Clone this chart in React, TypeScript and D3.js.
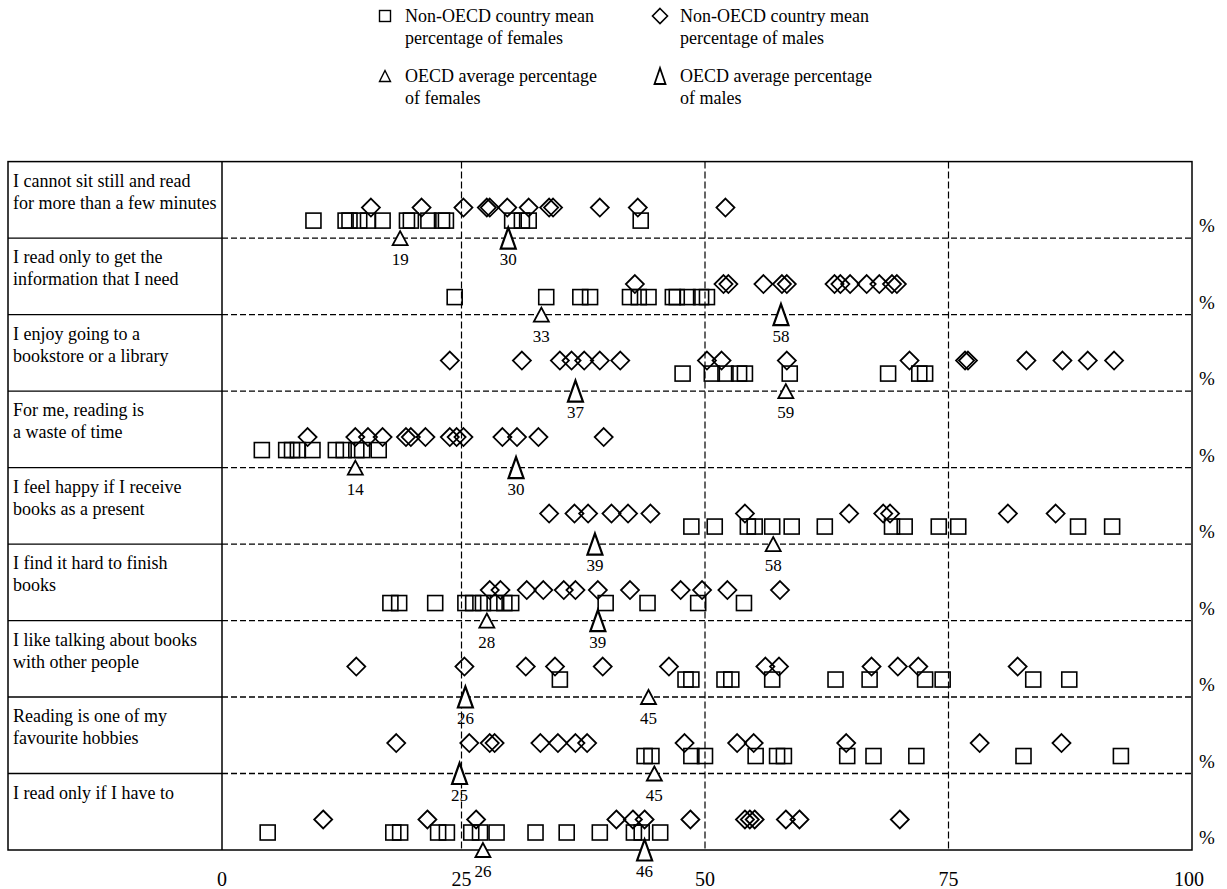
import React from 'react';
import * as d3 from 'd3';

const statements: string[][] = [
  ['I cannot sit still and read', 'for more than a few minutes'],
  ['I read only to get the', 'information that I need'],
  ['I enjoy going to a', 'bookstore or a library'],
  ['For me, reading is', 'a waste of time'],
  ['I feel happy if I receive', 'books as a present'],
  ['I find it hard to finish', 'books'],
  ['I like talking about books', 'with other people'],
  ['Reading is one of my', 'favourite hobbies'],
  ['I read only if I have to'],
];

// Non-OECD country means, percentage of females (squares)
const femalesNonOECD: number[][] = [
  [9.8, 13.1, 13.5, 14.5, 15.4, 16.9, 19.4, 19.8, 21.6, 23.0, 23.4, 30.2, 31.2, 31.9, 43.4],
  [24.3, 33.7, 37.2, 38.2, 42.3, 43.2, 44.2, 46.7, 47.1, 48.2, 49.6, 50.2],
  [47.7, 50.7, 52.1, 53.5, 54.1, 58.7, 68.8, 72.0, 72.6],
  [4.5, 7.0, 7.6, 8.2, 9.7, 12.1, 12.9, 14.2, 14.8, 16.5],
  [48.6, 51.0, 54.4, 55.1, 56.9, 58.9, 62.3, 69.2, 70.5, 74.0, 76.0, 88.3, 91.8],
  [17.7, 18.6, 22.3, 25.4, 26.2, 27.2, 28.4, 29.4, 30.1, 39.8, 44.1, 49.3, 54.0],
  [35.1, 48.0, 48.6, 52.0, 52.7, 56.9, 63.4, 66.9, 72.6, 74.4, 83.7, 87.4],
  [43.8, 44.5, 48.6, 50.0, 55.2, 57.4, 58.1, 64.6, 67.3, 71.7, 82.7, 92.7],
  [5.1, 18.0, 18.7, 22.6, 23.5, 26.0, 26.9, 28.6, 32.6, 35.8, 39.2, 42.7, 43.5, 45.4],
];

// Non-OECD country means, percentage of males (diamonds)
const malesNonOECD: number[][] = [
  [15.7, 20.9, 25.2, 27.6, 27.9, 29.7, 31.9, 34.0, 34.4, 39.2, 43.1, 52.1],
  [42.8, 51.9, 52.4, 56.0, 57.9, 58.4, 63.3, 63.9, 64.9, 66.6, 67.9, 69.2, 69.7],
  [23.8, 31.2, 35.1, 36.3, 37.6, 39.2, 41.3, 50.2, 51.7, 58.4, 71.0, 76.7, 77.0, 83.0, 86.7, 89.3, 92.0],
  [9.2, 14.1, 15.4, 16.9, 19.3, 19.8, 21.3, 23.8, 24.5, 25.2, 29.2, 30.7, 32.9, 39.6],
  [34.0, 36.6, 38.0, 40.4, 42.1, 44.4, 54.1, 64.8, 68.3, 69.0, 81.1, 86.0],
  [27.9, 29.0, 31.7, 33.4, 35.5, 36.7, 39.0, 42.3, 47.5, 49.7, 52.3, 57.7],
  [14.2, 25.3, 31.6, 34.6, 39.5, 46.3, 56.2, 57.6, 67.1, 69.8, 71.9, 82.1],
  [18.3, 25.8, 27.9, 28.4, 33.1, 34.9, 36.7, 37.9, 47.9, 53.3, 55.0, 64.5, 78.2, 86.6],
  [10.8, 21.5, 26.5, 40.9, 42.6, 43.8, 48.5, 54.1, 54.6, 55.1, 58.3, 59.7, 70.0],
];

// OECD averages: printed values
const oecdFemales: number[] = [19, 33, 59, 14, 58, 28, 45, 45, 26];
const oecdMales: number[] = [30, 58, 37, 30, 39, 39, 26, 25, 46];
// OECD averages: where the markers sit in the picture
const oecdFemalesPlotted: number[] = [18.7, 33.2, 58.3, 14.1, 57.0, 27.6, 44.2, 44.8, 27.2];
const oecdMalesPlotted: number[] = [29.8, 57.8, 36.7, 30.6, 38.7, 39.0, 25.4, 24.8, 43.8];

const xTicks: number[] = [0, 25, 50, 75, 100];
const gridValues: number[] = [25, 50, 75];

const legendItems = [
  { shape: 'square', lines: ['Non-OECD country mean', 'percentage of females'] },
  { shape: 'diamond', lines: ['Non-OECD country mean', 'percentage of males'] },
  { shape: 'triF', lines: ['OECD average percentage', 'of females'] },
  { shape: 'triM', lines: ['OECD average percentage', 'of males'] },
];

const FONT = '"Liberation Serif", "Times New Roman", serif';

const W = 1227;
const H = 889;
const frameLeft = 8;
const labelRight = 222;
const plotRight = 1192;
const top = 161.6;
const bottom = 850;

const x = d3.scaleLinear().domain([0, 100]).range([218, plotRight]);
const y = d3.scaleBand<number>().domain(d3.range(statements.length)).range([top, bottom]).padding(0);

const diamondPath = (cx: number, cy: number, r: number) =>
  `M${cx},${cy - r}L${cx + r},${cy}L${cx},${cy + r}L${cx - r},${cy}Z`;
const trianglePath = (cx: number, cy: number, w: number, h: number) =>
  `M${cx},${cy - h / 2}L${cx + w / 2},${cy + h / 2}L${cx - w / 2},${cy + h / 2}Z`;

function LegendMarker({ shape, cx, cy }: { shape: string; cx: number; cy: number }) {
  if (shape === 'square')
    return <rect x={cx - 5.5} y={cy - 5.5} width={11} height={11} fill="none" stroke="#000" strokeWidth={1.4} />;
  if (shape === 'diamond')
    return <path d={diamondPath(cx, cy, 7.5)} fill="none" stroke="#000" strokeWidth={1.6} />;
  if (shape === 'triF')
    return <path d={trianglePath(cx, cy, 11, 11)} fill="none" stroke="#000" strokeWidth={1.4} />;
  return <path d={trianglePath(cx, cy, 11, 16)} fill="none" stroke="#000" strokeWidth={1.8} />;
}

export default function App() {
  const bw = y.bandwidth();
  const legendPos = [
    { mx: 385, tx: 405, y0: 22 },
    { mx: 660, tx: 680, y0: 22 },
    { mx: 385, tx: 405, y0: 82 },
    { mx: 660, tx: 680, y0: 82 },
  ];
  return (
    <svg
      width={W}
      height={H}
      viewBox={`0 0 ${W} ${H}`}
      style={{ position: 'absolute', left: 0, top: 0, background: '#fff' }}
      fontFamily={FONT}
    >
      <rect x={0} y={0} width={W} height={H} fill="#fff" />

      {/* Legend */}
      {legendItems.map((item, i) => {
        const p = legendPos[i];
        return (
          <g key={i}>
            <LegendMarker shape={item.shape} cx={p.mx} cy={p.y0 - 6} />
            {item.lines.map((ln, j) => (
              <text key={j} x={p.tx} y={p.y0 + j * 22} fontSize={18} fill="#000">
                {ln}
              </text>
            ))}
          </g>
        );
      })}

      {/* Vertical dashed grid lines */}
      {gridValues.map((v) => (
        <line key={v} x1={x(v)} x2={x(v)} y1={top} y2={bottom} stroke="#000" strokeWidth={1.2} strokeDasharray="7,3" />
      ))}

      {/* Row separators */}
      {d3.range(1, statements.length).map((i) => {
        const yy = y(i)!;
        return (
          <g key={i}>
            <line x1={frameLeft} x2={labelRight} y1={yy} y2={yy} stroke="#000" strokeWidth={1.3} />
            <line x1={labelRight} x2={plotRight} y1={yy} y2={yy} stroke="#000" strokeWidth={1.3} strokeDasharray="6,3" />
          </g>
        );
      })}

      {/* Frame */}
      <rect x={frameLeft} y={top} width={plotRight - frameLeft} height={bottom - top} fill="none" stroke="#000" strokeWidth={1.5} />
      <line x1={labelRight} x2={labelRight} y1={top} y2={bottom} stroke="#000" strokeWidth={1.5} />

      {/* Row labels and percent signs */}
      {statements.map((lines, i) => {
        const rt = y(i)!;
        return (
          <g key={i}>
            {lines.map((ln, j) => (
              <text key={j} x={13} y={rt + 25 + j * 22} fontSize={18} fill="#000">
                {ln}
              </text>
            ))}
            <text x={1199} y={rt + bw - 6} fontSize={19} fill="#000">
              %
            </text>
          </g>
        );
      })}

      {/* Non-OECD females: squares */}
      {femalesNonOECD.map((vals, i) =>
        vals.map((v, k) => (
          <rect
            key={`f${i}-${k}`}
            x={x(v) - 7.5}
            y={y(i)! + 59 - 7.5}
            width={15}
            height={15}
            fill="none"
            stroke="#000"
            strokeWidth={1.6}
          />
        ))
      )}

      {/* Non-OECD males: diamonds */}
      {malesNonOECD.map((vals, i) =>
        vals.map((v, k) => (
          <path key={`m${i}-${k}`} d={diamondPath(x(v), y(i)! + 46, 9)} fill="none" stroke="#000" strokeWidth={1.8} />
        ))
      )}

      {/* OECD averages: triangles with labels */}
      {statements.map((_, i) => {
        const rb = y(i)! + bw;
        const fx = x(oecdFemalesPlotted[i]);
        const mx = x(oecdMalesPlotted[i]);
        return (
          <g key={`t${i}`}>
            <path d={trianglePath(fx, rb, 15, 14)} fill="#fff" stroke="#000" strokeWidth={1.8} />
            <text x={fx} y={rb + 27} fontSize={17} textAnchor="middle" fill="#000">
              {oecdFemales[i]}
            </text>
            <path d={trianglePath(mx, rb, 15, 21)} fill="#fff" stroke="#000" strokeWidth={2.2} />
            <text x={mx} y={rb + 27} fontSize={17} textAnchor="middle" fill="#000">
              {oecdMales[i]}
            </text>
          </g>
        );
      })}

      {/* X axis tick labels */}
      {xTicks.map((t) => (
        <text key={t} x={x(t) + (t === 0 ? 4 : t === 100 ? -3 : 0)} y={886} fontSize={20} textAnchor="middle" fill="#000">
          {t}
        </text>
      ))}
    </svg>
  );
}
